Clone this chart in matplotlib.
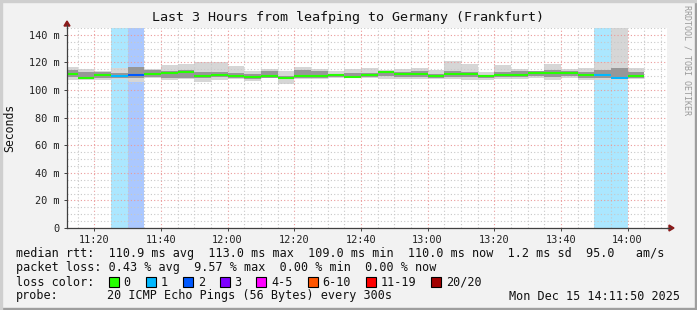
import matplotlib
matplotlib.use("Agg")
import matplotlib.pyplot as plt
from matplotlib.patches import Rectangle, Polygon
import numpy as np

# ---------------- data ----------------
# 5-minute bins, start time in minutes after midnight (11:10 ... 14:00)
bin_start = list(range(11 * 60 + 10, 14 * 60 + 5, 5))
bin_width = 5

median = [111.5, 109.0, 110.8, 110.3, 110.8, 111.8, 112.2, 113.0, 110.2, 111.0,
          110.4, 109.2, 110.0, 109.1, 110.2, 110.2, 110.9, 109.8, 110.9, 112.8,
          111.7, 111.6, 110.2, 111.6, 111.7, 110.0, 111.1, 111.1, 112.6, 112.2,
          112.7, 111.2, 110.6, 109.1, 110.0]
smoke_max = [116.4, 115.2, 114.0, 115.7, 116.9, 115.2, 118.1, 118.8, 120.0, 120.0,
             117.6, 114.0, 115.2, 114.0, 116.4, 115.2, 113.5, 115.2, 115.7, 114.5,
             115.2, 115.9, 114.7, 121.0, 118.8, 113.0, 118.1, 115.2, 114.0, 118.8,
             115.2, 115.7, 120.0, 200.0, 115.7]
smoke_uq = [114.3, 112.8, 112.8, 112.5, 116.4, 114.8, 114.0, 114.5, 112.8, 112.8,
            112.5, 112.0, 114.0, 110.5, 114.5, 113.5, 111.8, 112.5, 112.5, 113.8,
            113.0, 113.8, 112.0, 114.0, 113.3, 111.0, 113.0, 113.8, 114.0, 114.5,
            114.0, 113.0, 114.5, 116.0, 113.0]
smoke_lq = [109.3, 108.3, 108.8, 109.0, 108.5, 109.8, 108.5, 109.0, 108.8, 109.5,
            108.5, 108.0, 108.8, 108.0, 109.0, 109.0, 109.3, 108.8, 109.5, 110.0,
            109.5, 109.5, 108.8, 109.8, 109.5, 108.5, 109.3, 109.2, 110.5, 109.8,
            110.5, 108.5, 109.0, 108.2, 109.0]
smoke_min = [107.2, 107.6, 107.2, 108.0, 106.0, 109.0, 107.5, 108.0, 106.0, 107.5,
             108.0, 106.3, 108.4, 104.5, 108.0, 108.0, 108.4, 108.4, 108.4, 108.0,
             108.0, 108.0, 108.0, 108.0, 107.5, 107.5, 108.0, 108.0, 108.4, 107.5,
             108.4, 107.5, 107.5, 107.5, 108.0]
loss_count = [0, 0, 0, 1, 2, 0, 0, 0, 0, 0,
              0, 0, 0, 0, 0, 0, 0, 0, 0, 0,
              0, 0, 0, 0, 0, 0, 0, 0, 0, 0,
              0, 0, 1, 1, 0]

loss_labels = ["0", "1", "2", "3", "4-5", "6-10", "11-19", "20/20"]
loss_colors = ["#26ff00", "#00b8ff", "#0059ff", "#7e00ff", "#ff00ff",
               "#ff5500", "#ff0000", "#a10000"]

x_ticks = [11 * 60 + 20, 11 * 60 + 40, 12 * 60, 12 * 60 + 20, 12 * 60 + 40,
           13 * 60, 13 * 60 + 20, 13 * 60 + 40, 14 * 60]
x_ticklabels = ["11:20", "11:40", "12:00", "12:20", "12:40",
                "13:00", "13:20", "13:40", "14:00"]
y_ticks = [0, 20, 40, 60, 80, 100, 120, 140]
y_ticklabels = ["0", "20 m", "40 m", "60 m", "80 m", "100 m", "120 m", "140 m"]

title = "Last 3 Hours from leafping to Germany (Frankfurt)"
legend_lines = [
    "median rtt:  110.9 ms avg  113.0 ms max  109.0 ms min  110.0 ms now  1.2 ms sd  95.0   am/s",
    "packet loss: 0.43 % avg  9.57 % max  0.00 % min  0.00 % now",
]
probe_text = "20 ICMP Echo Pings (56 Bytes) every 300s"
date_text = "Mon Dec 15 14:11:50 2025"

t_end = 14 * 60 + 11 + 50 / 60.0
t_start = t_end - 180

# ---------------- figure ----------------
W, H = 697, 310
mono = "DejaVu Sans Mono"
fig = plt.figure(figsize=(W / 100, H / 100), dpi=100)
fig.patch.set_facecolor("#f2f2f2")

# border shading
fig.patches.append(Rectangle((0, 0), 1, 2 / H, transform=fig.transFigure,
                             color="#9e9e9e", zorder=0))
fig.patches.append(Rectangle((1 - 2 / W, 0), 2 / W, 1, transform=fig.transFigure,
                             color="#9e9e9e", zorder=0))
fig.patches.append(Rectangle((0, 1 - 2 / H), 1, 2 / H, transform=fig.transFigure,
                             color="#cfcfcf", zorder=0))
fig.patches.append(Rectangle((0, 0), 2 / W, 1, transform=fig.transFigure,
                             color="#cfcfcf", zorder=0))

ax = fig.add_axes([67 / W, (H - 228) / H, 600 / W, 200 / H])
ax.set_facecolor("white")
ax.set_xlim(t_start, t_end)
ax.set_ylim(0, 145)

# loss backgrounds
for s, lc in zip(bin_start, loss_count):
    if lc > 0:
        ax.bar(s, 145, bottom=0, width=bin_width, align="edge",
               color=loss_colors[lc], alpha=0.33, linewidth=0, zorder=1)

# smoke
bs = np.array(bin_start)
mx = np.array(smoke_max)
mn = np.array(smoke_min)
uq = np.array(smoke_uq)
lq = np.array(smoke_lq)
ax.bar(bs, mx - mn, bottom=mn, width=bin_width, align="edge",
       color="#d6d6d6", linewidth=0, zorder=2)
ax.bar(bs, uq - lq, bottom=lq, width=bin_width, align="edge",
       color="#979797", linewidth=0, zorder=3)

# median lines
for s, m, lc in zip(bin_start, median, loss_count):
    ax.hlines(m, s, s + bin_width, colors=loss_colors[lc], linewidth=1.5, zorder=5)

# grid
ax.set_xticks(x_ticks)
ax.set_xticklabels(x_ticklabels)
ax.set_xticks(np.arange(11 * 60 + 15, 14 * 60 + 15, 5), minor=True)
ax.set_yticks(y_ticks)
ax.set_yticklabels(y_ticklabels)
ax.set_yticks(np.arange(0, 146, 5), minor=True)
ax.grid(which="minor", color="#c8c8c8", linestyle=(0, (1, 2)), linewidth=0.8, zorder=6)
ax.grid(which="major", color="#eb9a9a", linestyle=(0, (1, 2)), linewidth=0.8, zorder=7)
ax.set_axisbelow(False)

for sp in ["top", "right"]:
    ax.spines[sp].set_visible(False)
for sp in ["left", "bottom"]:
    ax.spines[sp].set_color("#404040")
    ax.spines[sp].set_linewidth(0.9)
    ax.spines[sp].set_zorder(8)

ax.tick_params(axis="both", which="minor", length=0)
ax.tick_params(axis="both", which="major", length=2.5, width=0.7, color="#404040",
               labelsize=7.4, labelcolor="#222222")
ax.tick_params(axis="x", which="major", pad=2.5)
ax.tick_params(axis="y", which="major", pad=3)
for lab in ax.get_xticklabels() + ax.get_yticklabels():
    lab.set_fontfamily(mono)

# axis extensions & arrows (in pixel->figure coords)
def fx(px):
    return px / W

def fy(py):
    return 1 - py / H

fig.lines.append(plt.Line2D([fx(667), fx(670)], [fy(228), fy(228)],
                            transform=fig.transFigure, color="#404040", lw=0.9))
fig.lines.append(plt.Line2D([fx(67), fx(67)], [fy(28), fy(25)],
                            transform=fig.transFigure, color="#404040", lw=0.9))
fig.patches.append(Polygon([[fx(669), fy(225)], [fx(674), fy(228)], [fx(669), fy(231)]],
                           closed=True, transform=fig.transFigure, color="#8b1a1a"))
fig.patches.append(Polygon([[fx(64), fy(26)], [fx(67), fy(21)], [fx(70), fy(26)]],
                           closed=True, transform=fig.transFigure, color="#8b1a1a"))

# title and labels
fig.text(fx(348), fy(18), title, ha="center", va="center", fontsize=9.6,
         family=mono, color="#111111")
fig.text(fx(10), fy(128), "Seconds", ha="center", va="center", rotation=90,
         fontsize=8.3, family=mono, color="#111111")
fig.text(fx(687), fy(5), "RRDTOOL / TOBI OETIKER", ha="center", va="top",
         rotation=-90, fontsize=6.0, family=mono, color="#9a9a9a")

# legend area
fs = 8.45
fig.text(fx(16), fy(254), legend_lines[0], ha="left", va="center", fontsize=fs,
         family=mono, color="#111111")
fig.text(fx(16), fy(268), legend_lines[1], ha="left", va="center", fontsize=fs,
         family=mono, color="#111111")
fig.text(fx(16), fy(282), "loss color:", ha="left", va="center", fontsize=fs,
         family=mono, color="#111111")
box_x = [108.5, 146, 183, 219.5, 256, 307.5, 366, 431]
for bx, lab, col in zip(box_x, loss_labels, loss_colors):
    fig.patches.append(Rectangle((fx(bx), fy(287)), 10 / W, 10 / H,
                                 transform=fig.transFigure, facecolor=col,
                                 edgecolor="black", linewidth=0.8))
    fig.text(fx(bx + 15), fy(282), lab, ha="left", va="center", fontsize=fs,
             family=mono, color="#111111")
fig.text(fx(16), fy(296), "probe:", ha="left", va="center", fontsize=fs,
         family=mono, color="#111111")
fig.text(fx(107.3), fy(296), probe_text, ha="left", va="center", fontsize=fs,
         family=mono, color="#111111")
fig.text(fx(680), fy(296), date_text, ha="right", va="center", fontsize=fs,
         family=mono, color="#111111")

fig.savefig("out.png", dpi=100, facecolor=fig.get_facecolor())
